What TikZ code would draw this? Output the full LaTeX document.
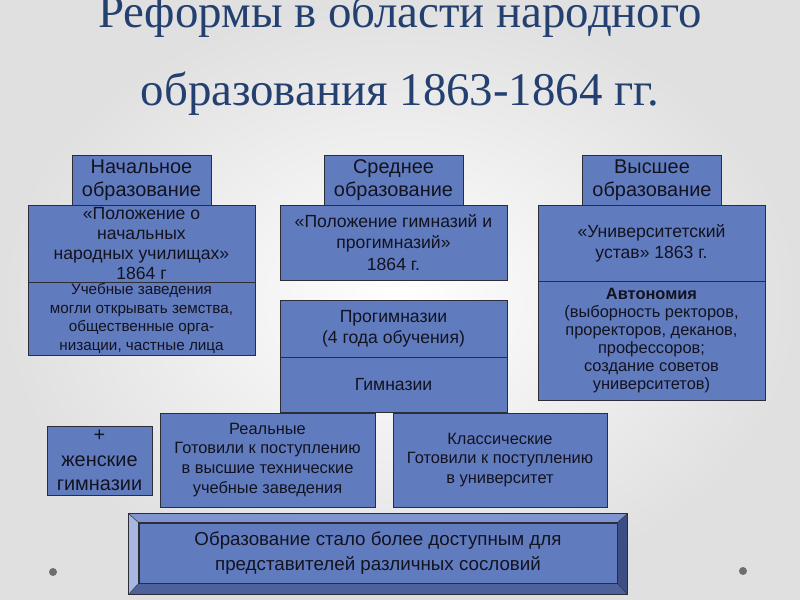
\documentclass[tikz,border=0pt]{standalone}
\usepackage{fontspec}
\setmainfont{Liberation Serif}
\setsansfont{Liberation Sans}
\usetikzlibrary{calc}
\definecolor{boxblue}{RGB}{97,124,190}
\definecolor{boxline}{RGB}{45,45,55}
\definecolor{boxtext}{RGB}{18,18,32}
\definecolor{titleblue}{RGB}{36,64,112}
\definecolor{bggray}{RGB}{224,224,224}
\definecolor{dotgray}{RGB}{110,110,110}
\definecolor{bevtop}{RGB}{128,148,208}
\definecolor{bevleft}{RGB}{168,182,226}
\definecolor{bevright}{RGB}{60,78,132}
\definecolor{bevbot}{RGB}{78,97,155}
\tikzset{
    blok/.style={draw=boxline, fill=boxblue, text=boxtext, align=center, inner sep=0pt, line width=0.7pt},
    txthead/.style={font=\sffamily\fontsize{17}{20}\selectfont},
    txtbig/.style={font=\sffamily\fontsize{16}{21}\selectfont},
    txtmid/.style={font=\sffamily\fontsize{15}{18}\selectfont},
    txtreal/.style={font=\sffamily\fontsize{14}{17}\selectfont},
    txtsmall/.style={font=\sffamily\fontsize{14}{15.5}\selectfont},
    titul/.style={text=titleblue, font=\rmfamily\fontsize{40}{48}\selectfont, inner sep=0pt}
}
\begin{document}
\begin{tikzpicture}[x=0.03cm, y=-0.03cm]
        \useasboundingbox (0,0) rectangle (800,600);
        \shade[inner color=white, outer color=bggray] (0,0) rectangle (800,600);
        \fill[dotgray] (53,572) circle (4);
        \fill[dotgray] (743,571) circle (4);

        \node[titul, anchor=base] (titul1) at (400,28)  {Реформы в области народного};
        \node[titul, anchor=base] (titul2) at (400,106) {образования 1863-1864 гг.};

        % начальное
        \node[blok, font=\sffamily\fontsize{15}{17}\selectfont, minimum width=6.81cm, minimum height=2.31cm] (nachpol) at (141.5,243.5) {«Положение о\\начальных\\народных училищах»\\1864 г};
        \node[blok, txthead, minimum width=4.17cm, minimum height=1.5cm] (nach) at (141.5,180) {Начальное\\образование};
        \node[blok, font=\sffamily\fontsize{13}{16}\selectfont, minimum width=6.81cm, minimum height=2.19cm] (nachzav) at (141.5,318.5) {Учебные заведения\\могли открывать земства,\\общественные орга-\\низации, частные лица};

        % среднее
        \node[blok, txthead, minimum width=4.17cm, minimum height=1.5cm] (sred) at (393.5,180) {Среднее\\образование};
        \node[blok, txtmid, minimum width=6.81cm, minimum height=2.25cm] (sredpol) at (393.5,242.5) {«Положение гимназий и\\прогимназий»\\1864 г.};
        \node[blok, txtmid, minimum width=6.81cm, minimum height=1.71cm] (progim) at (393.5,328.5) {Прогимназии\\(4 года обучения)};
        \node[blok, txtmid, minimum width=6.81cm, minimum height=1.65cm] (gim) at (393.5,384.5) {Гимназии};

        % высшее
        \node[blok, txthead, minimum width=4.17cm, minimum height=1.5cm] (vyssh) at (652,180) {Высшее\\образование};
        \node[blok, txtmid, minimum width=6.81cm, minimum height=2.28cm] (vysshpol) at (651.5,243) {«Университетский\\устав» 1863 г.};
        \node[blok, txtsmall, minimum width=6.81cm, minimum height=3.57cm] (avto) at (651.5,340.5) {\textbf{Автономия}\\(выборность ректоров,\\проректоров, деканов,\\профессоров;\\создание советов\\университетов)};

        \node[blok, font=\sffamily\fontsize{17}{21}\selectfont, minimum width=3.15cm, minimum height=2.07cm] (zhen) at (99.5,460.5) {+\\женские\\гимназии};
        \node[blok, txtreal, minimum width=6.45cm, minimum height=2.82cm] (real) at (267.5,460) {Реальные\\Готовили к поступлению\\в высшие технические\\учебные заведения};
        \node[blok, txtreal, minimum width=6.42cm, minimum height=2.82cm] (klass) at (500,460) {Классические\\Готовили к поступлению\\в университет};

        % итог с фаской
        \node[blok, txtbig, minimum width=14.34cm, minimum height=1.8cm] (itog) at (378,553) {Образование стало более доступным для\\представителей различных сословий};
        \coordinate (b1) at ($(itog.north west)+(-10,-9)$);
        \coordinate (b2) at ($(itog.north east)+(10,-9)$);
        \coordinate (b3) at ($(itog.south east)+(10,11)$);
        \coordinate (b4) at ($(itog.south west)+(-10,11)$);
        \fill[bevtop]   (b1) -- (b2) -- (itog.north east) -- (itog.north west) -- cycle;
        \fill[bevright] (b2) -- (b3) -- (itog.south east) -- (itog.north east) -- cycle;
        \fill[bevbot]   (b3) -- (b4) -- (itog.south west) -- (itog.south east) -- cycle;
        \fill[bevleft]  (b4) -- (b1) -- (itog.north west) -- (itog.south west) -- cycle;
        \draw[boxline, line width=0.7pt] (b1) -- (b2) -- (b3) -- (b4) -- cycle;
        \draw[boxline, line width=0.7pt] (itog.north west) rectangle (itog.south east);
        \draw[boxline, line width=0.4pt] (b1) -- (itog.north west) (b2) -- (itog.north east)
                                         (b3) -- (itog.south east) (b4) -- (itog.south west);
    \end{tikzpicture}
\end{document}
